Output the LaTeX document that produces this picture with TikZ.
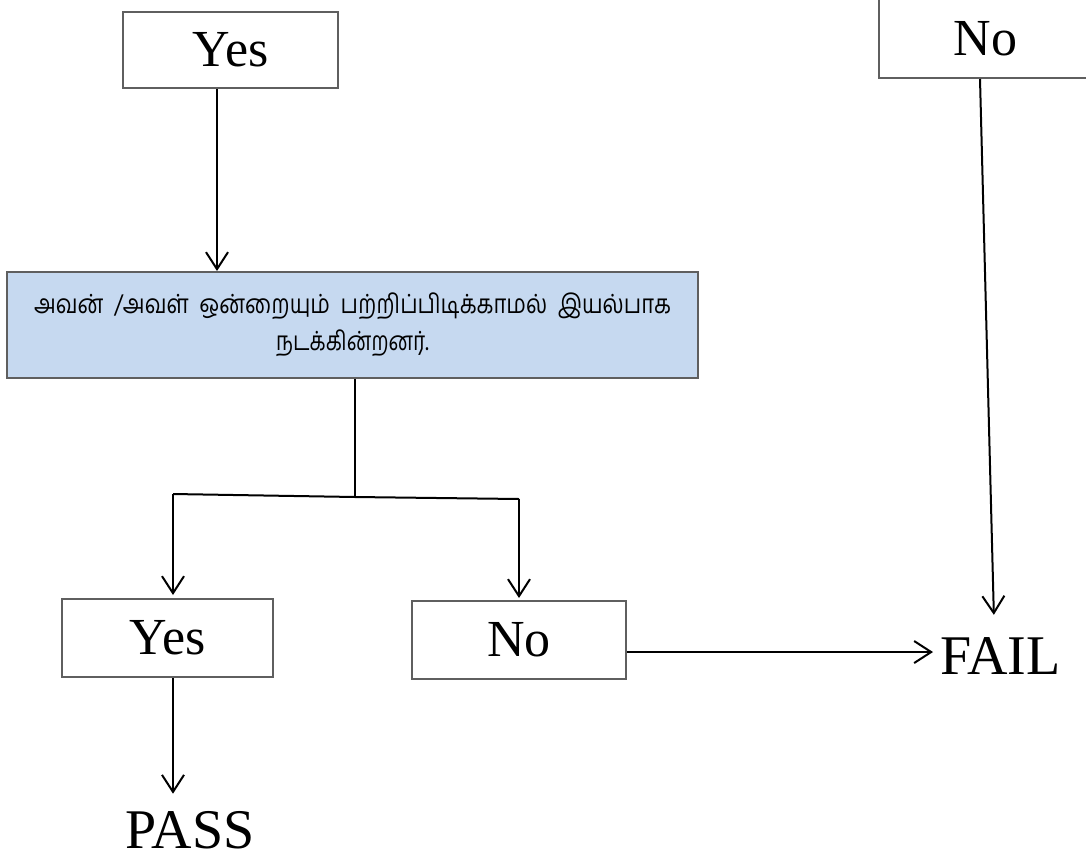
\documentclass[tikz,border=0pt]{standalone}
\usepackage{fontspec}
\usepackage{graphicx}
\setmainfont{Liberation Serif}
\newfontfamily\tamilfont[Script=Tamil]{Hind Madurai}
\usetikzlibrary{arrows.meta,calc}
\definecolor{boxgray}{RGB}{95,95,95}
\definecolor{boxblue}{RGB}{198,217,240}
\tikzset{
  box/.style={draw=boxgray, line width=2pt, fill=white, inner sep=0pt, font=\fontsize{52}{60}\selectfont},
  bluebox/.style={box, fill=boxblue, font=\tamilfont\fontsize{22}{37}\selectfont, align=center},
  bigtext/.style={inner sep=0pt, font=\fontsize{56}{64}\selectfont},
  conn/.style={line width=2pt, black},
  arr/.style={conn, -{Straight Barb[length=17pt,width=22pt,line width=2pt]}}
}
\begin{document}
\begin{tikzpicture}[x=1pt,y=-1pt]
\useasboundingbox (0,0) rectangle (1086,862);
\node[box, minimum width=215pt, minimum height=76pt] (topyes) at (230.5,50) {Yes};
\node[box, minimum width=213pt, minimum height=79pt] (topno) at (985.5,38.5) {No};
\node[bluebox, minimum width=691pt, minimum height=106pt] (blue) at (352.5,325)
  {\scalebox{1}[1.2]{\makebox[637pt][s]{அவன் /அவள்  ஒன்றையும்  பற்றிப்பிடிக்காமல்  இயல்பாக}}\\ \scalebox{0.95}[1.2]{நடக்கின்றனர்.}};
\node[box, minimum width=211pt, minimum height=78pt] (byes) at (167.5,638) {Yes};
\node[box, minimum width=214pt, minimum height=78pt] (bno) at (519,640) {No};
\node[bigtext, anchor=base west] (fail) at (940,674) {FAIL};
\node[bigtext, anchor=base] (pass) at (190,848) {PASS};
% junction points
\coordinate (j) at (355,497);
\coordinate (jl) at (173,494);
\coordinate (jr) at (519,499);
\coordinate (a1) at ($(topyes.south)+(-13.5,0)$);
\coordinate (a2) at ($(blue.south)+(2.5,0)$);
\coordinate (a3) at ($(byes.south)+(5.5,0)$);
\coordinate (a4) at ($(topno.south)+(-5.5,0)$);
\coordinate (a5) at ($(fail.north)+(-6.5,-22)$);
\coordinate (a6) at ($(fail.west)+(-7,-3.5)$);
% connectors
\draw[arr] (a1) -- (a1 |- blue.north);
\draw[conn] (a2) -- (j);
\draw[conn] (jl) -- (j) -- (jr);
\draw[arr, shorten >=3pt] (jl) -- (jl |- byes.north);
\draw[arr, shorten >=2pt] (jr) -- (jr |- bno.north);
\draw[arr, shorten >=17pt] (a3) -- (a3 |- pass.north);
\draw[arr] (bno.east |- a6) -- (a6);
\draw[arr] (a4) -- (a5);
\end{tikzpicture}
\end{document}
